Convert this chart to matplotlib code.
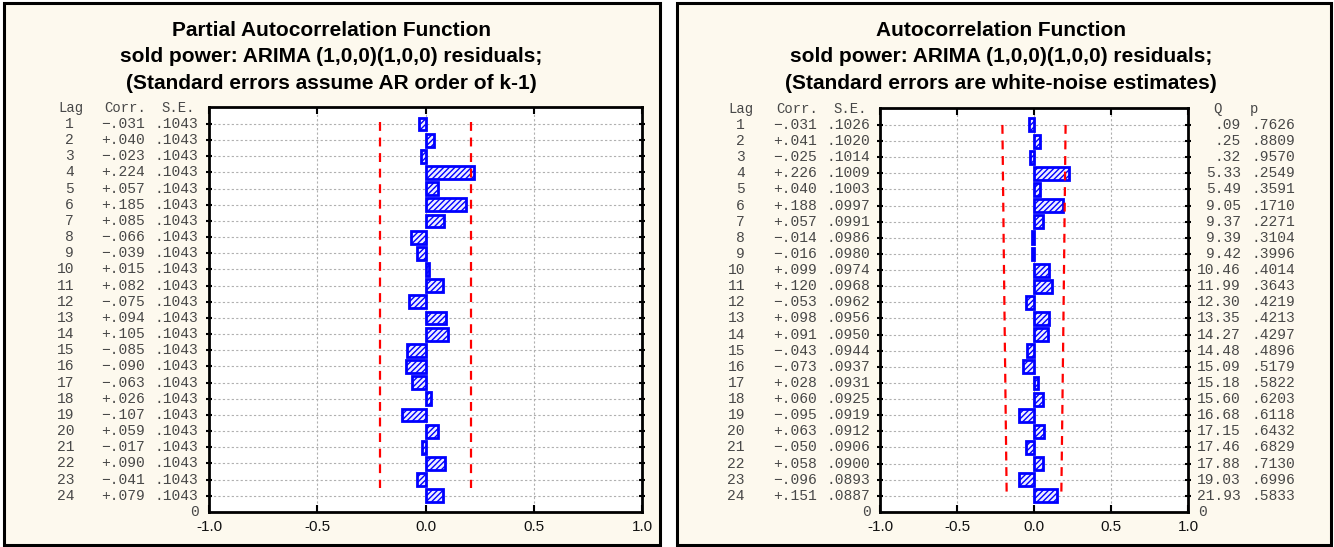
import matplotlib
matplotlib.use("Agg")
import matplotlib.pyplot as plt
import matplotlib.transforms as mtransforms
from matplotlib.patches import Rectangle
import numpy as np

# ---------------- data ----------------
lags = list(range(1, 25))
pacf_corr = [-0.031, 0.040, -0.023, 0.224, 0.057, 0.185, 0.085, -0.066, -0.039, 0.015,
             0.082, -0.075, 0.094, 0.105, -0.085, -0.090, -0.063, 0.026, -0.107, 0.059,
             -0.017, 0.090, -0.041, 0.079]
pacf_se = [0.1043] * 24
acf_corr = [-0.031, 0.041, -0.025, 0.226, 0.040, 0.188, 0.057, -0.014, -0.016, 0.099,
            0.120, -0.053, 0.098, 0.091, -0.043, -0.073, 0.028, 0.060, -0.095, 0.063,
            -0.050, 0.058, -0.096, 0.151]
acf_se = [0.1026, 0.1020, 0.1014, 0.1009, 0.1003, 0.0997, 0.0991, 0.0986, 0.0980, 0.0974,
          0.0968, 0.0962, 0.0956, 0.0950, 0.0944, 0.0937, 0.0931, 0.0925, 0.0919, 0.0912,
          0.0906, 0.0900, 0.0893, 0.0887]
acf_q = [0.09, 0.25, 0.32, 5.33, 5.49, 9.05, 9.37, 9.39, 9.42, 10.46, 11.99, 12.30,
         13.35, 14.27, 14.48, 15.09, 15.18, 15.60, 16.68, 17.15, 17.46, 17.88, 19.03, 21.93]
acf_p = [0.7626, 0.8809, 0.9570, 0.2549, 0.3591, 0.1710, 0.2271, 0.3104, 0.3996, 0.4014,
         0.3643, 0.4219, 0.4213, 0.4297, 0.4896, 0.5179, 0.5822, 0.6203, 0.6118, 0.6432,
         0.6829, 0.7130, 0.6996, 0.5833]
x_ticks = [-1.0, -0.5, 0.0, 0.5, 1.0]
x_ticklabels = ["-1.0", "-0.5", "0.0", "0.5", "1.0"]
titles_left = ["Partial Autocorrelation Function",
               "sold power: ARIMA (1,0,0)(1,0,0) residuals;",
               "(Standard errors assume AR order of k-1)"]
titles_right = ["Autocorrelation Function",
                "sold power: ARIMA (1,0,0)(1,0,0) residuals;",
                "(Standard errors are white-noise estimates)"]

W, H = 1334, 547
fig = plt.figure(figsize=(W / 100, H / 100), dpi=100)
fig.patch.set_facecolor("white")

CREAM = "#fdf9ee"
BLUE = "#0000ff"
TXT = "#484848"
MONO = ["Liberation Mono", "DejaVu Sans Mono"]
SANS = ["Liberation Sans", "DejaVu Sans"]
plt.rcParams["hatch.linewidth"] = 1.0


def fx(px):
    return px / W


def fy(py):
    return 1 - py / H


# panel backgrounds
for x0, x1 in [(4, 660), (677, 1331)]:
    fig.patches.append(Rectangle((fx(x0), fy(545)), fx(x1) - fx(x0), fy(3) - fy(545),
                                 transform=fig.transFigure, facecolor=CREAM,
                                 edgecolor="black", linewidth=2.2, zorder=-5))


def fmt_corr(v):
    s = f"{abs(v):.3f}"[1:]
    return ("+" if v >= 0 else "\u2212") + s


def fmt_se(v):
    return f"{v:.4f}"[1:]


def fmt_q(v):
    s = f"{v:.2f}"
    return s[1:] if s.startswith("0") else s


def make_panel(ax_px, corr, se, titles, title_cx, cols, qp=None, step_lines=False):
    x0, x1, y0, y1 = ax_px
    ax = fig.add_axes([fx(x0), fy(y1), fx(x1) - fx(x0), fy(y0) - fy(y1)])
    ax.set_facecolor("white")
    ypos = [25 - l for l in lags]
    ax.set_xlim(-1, 1)
    ax.set_ylim(0, 25.05)
    # grid
    for y in ypos:
        ax.axhline(y, color="#b0b0b0", lw=0.8, ls=(0, (2, 2)), zorder=1)
    for x in [-0.5, 0.0, 0.5]:
        ax.axvline(x, color="#b0b0b0", lw=0.8, ls=(0, (2, 2)), zorder=1)
    # bars
    ax.barh(ypos, corr, height=0.8, left=0, facecolor="#eeeeff", edgecolor=BLUE,
            hatch="//////", linewidth=2.0, zorder=3)
    # confidence lines
    lim = [2 * s for s in se]
    if step_lines:
        ax.plot(lim, ypos, color="red", ls=(0, (4, 3)), lw=1.6, zorder=4)
        ax.plot([-v for v in lim], ypos, color="red", ls=(0, (4, 3)), lw=1.6, zorder=4)
    else:
        ax.plot([lim[0]] * 2, [ypos[0] + 0.1, ypos[-1] + 0.5], color="red",
                ls=(0, (4, 3)), lw=1.6, zorder=4)
        ax.plot([-lim[0]] * 2, [ypos[0] + 0.1, ypos[-1] + 0.5], color="red",
                ls=(0, (4, 3)), lw=1.6, zorder=4)
    # ticks
    ax.set_yticks(ypos)
    ax.set_yticklabels([])
    ax.tick_params(axis="y", which="both", left=True, right=True, direction="out",
                   length=5, width=1.5)
    ax.tick_params(axis="y", right=True, direction="inout")
    ax.set_xticks(x_ticks)
    ax.set_xticklabels(x_ticklabels, fontsize=11, family=SANS, color="#111111")
    ax.tick_params(axis="x", top=True, bottom=True, direction="in", length=5,
                   width=1.5, pad=6)
    for sp in ax.spines.values():
        sp.set_linewidth(2.0)
        sp.set_color("black")
    # texts
    tr = mtransforms.blended_transform_factory(fig.transFigure, ax.transData)
    top_y = 25.0
    lag_r, corr_r, se_r = cols
    ax.text(fx(lag_r + 9), top_y, "Lag", transform=tr, ha="right", va="center",
            family=MONO, fontsize=10, color=TXT, clip_on=False)
    ax.text(fx(corr_r + 1), top_y, "Corr.", transform=tr, ha="right", va="center",
            family=MONO, fontsize=10, color=TXT, clip_on=False)
    ax.text(fx(se_r - 3), top_y, "S.E.", transform=tr, ha="right", va="center",
            family=MONO, fontsize=10, color=TXT, clip_on=False)
    for l, y, c, s in zip(lags, ypos, corr, se):
        ax.text(fx(lag_r), y, str(l), transform=tr, ha="right", va="center",
                family=MONO, fontsize=10.5, color=TXT, clip_on=False)
        ax.text(fx(corr_r), y, fmt_corr(c), transform=tr, ha="right", va="center",
                family=MONO, fontsize=10.5, color=TXT, clip_on=False)
        ax.text(fx(se_r), y, fmt_se(s), transform=tr, ha="right", va="center",
                family=MONO, fontsize=10.5, color=TXT, clip_on=False)
    ax.text(fx(se_r + 1), 0, "0", transform=tr, ha="right", va="center",
            family=MONO, fontsize=10.5, color=TXT, clip_on=False)
    if qp is not None:
        qv, pv, q_r, p_r = qp
        ax.text(fx(q_r - 19), top_y, "Q", transform=tr, ha="right", va="center",
                family=MONO, fontsize=10, color=TXT, clip_on=False)
        ax.text(fx(p_r - 37), top_y, "p", transform=tr, ha="right", va="center",
                family=MONO, fontsize=10, color=TXT, clip_on=False)
        for y, q, p in zip(ypos, qv, pv):
            ax.text(fx(q_r), y, fmt_q(q), transform=tr, ha="right", va="center",
                    family=MONO, fontsize=10.5, color=TXT, clip_on=False)
            ax.text(fx(p_r), y, fmt_se(p), transform=tr, ha="right", va="center",
                    family=MONO, fontsize=10.5, color=TXT, clip_on=False)
        ax.text(fx(1198), 0, "0", transform=tr, ha="left", va="center",
                family=MONO, fontsize=10.5, color=TXT, clip_on=False)
    for i, t in enumerate(titles):
        fig.text(fx(title_cx), fy(30 + 26.5 * i), t, ha="center", va="center",
                 family=SANS, fontweight="bold", fontsize=15, color="black")
    return ax


make_panel((209, 642, 107, 512), pacf_corr, pacf_se, titles_left, 331,
           (74, 145, 198))
make_panel((880, 1188, 108, 512), acf_corr, acf_se, titles_right, 1001,
           (745, 817, 870), qp=(acf_q, acf_p, 1241, 1295), step_lines=True)

fig.savefig("out.png", dpi=100, facecolor=fig.get_facecolor())
